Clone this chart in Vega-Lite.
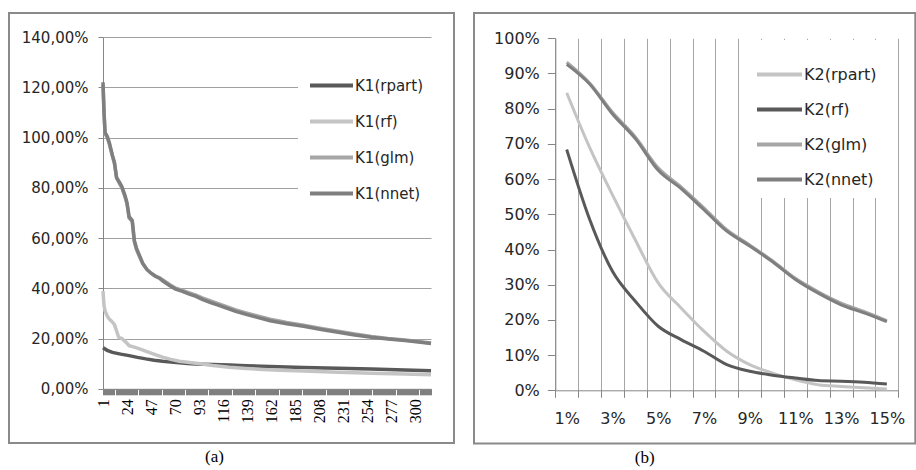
{
  "$schema": "https://vega.github.io/schema/vega-lite/v6.json",
  "background": "white",
  "padding": {"left": 8, "top": 12, "right": 0, "bottom": 0},
  "spacing": 18,
  "resolve": {"scale": {"x": "independent", "y": "independent", "color": "independent"}, "axis": {"x": "independent", "y": "independent"}, "legend": {"color": "independent"}},
  "config": {
    "view": {"stroke": "#8a8a8a", "strokeWidth": 2},
    "axis": {"labelFont": "DejaVu Sans", "labelColor": "#262626", "domainColor": "#868686", "tickColor": "#868686", "domainWidth": 1, "title": null},
    "legend": {"labelFont": "DejaVu Sans", "labelColor": "#262626"}
  },
  "datasets": {
    "a": [
      {"s": "K1(rpart)", "idx": 1, "v": 16.3}, {"s": "K1(rpart)", "idx": 5, "v": 15.3}, {"s": "K1(rpart)", "idx": 10, "v": 14.5}, {"s": "K1(rpart)", "idx": 18, "v": 13.8}, {"s": "K1(rpart)", "idx": 26, "v": 13.2}, {"s": "K1(rpart)", "idx": 34, "v": 12.5}, {"s": "K1(rpart)", "idx": 42, "v": 11.9}, {"s": "K1(rpart)", "idx": 50, "v": 11.4}, {"s": "K1(rpart)", "idx": 58, "v": 11.0}, {"s": "K1(rpart)", "idx": 66, "v": 10.7}, {"s": "K1(rpart)", "idx": 74, "v": 10.4}, {"s": "K1(rpart)", "idx": 82, "v": 10.1}, {"s": "K1(rpart)", "idx": 90, "v": 9.9}, {"s": "K1(rpart)", "idx": 106, "v": 9.7}, {"s": "K1(rpart)", "idx": 122, "v": 9.5}, {"s": "K1(rpart)", "idx": 138, "v": 9.2}, {"s": "K1(rpart)", "idx": 161, "v": 8.9}, {"s": "K1(rpart)", "idx": 193, "v": 8.5}, {"s": "K1(rpart)", "idx": 226, "v": 8.2}, {"s": "K1(rpart)", "idx": 258, "v": 7.9}, {"s": "K1(rpart)", "idx": 290, "v": 7.5}, {"s": "K1(rpart)", "idx": 315, "v": 7.2},
      {"s": "K1(rf)", "idx": 1, "v": 38.9}, {"s": "K1(rf)", "idx": 2, "v": 33}, {"s": "K1(rf)", "idx": 3, "v": 31}, {"s": "K1(rf)", "idx": 5, "v": 29}, {"s": "K1(rf)", "idx": 7, "v": 27.7}, {"s": "K1(rf)", "idx": 9, "v": 27}, {"s": "K1(rf)", "idx": 12, "v": 25.5}, {"s": "K1(rf)", "idx": 14, "v": 23}, {"s": "K1(rf)", "idx": 16, "v": 20.5}, {"s": "K1(rf)", "idx": 19, "v": 20}, {"s": "K1(rf)", "idx": 23, "v": 18.5}, {"s": "K1(rf)", "idx": 26, "v": 17.2}, {"s": "K1(rf)", "idx": 31, "v": 16.6}, {"s": "K1(rf)", "idx": 36, "v": 15.9}, {"s": "K1(rf)", "idx": 45, "v": 14.5}, {"s": "K1(rf)", "idx": 51, "v": 13.6}, {"s": "K1(rf)", "idx": 58, "v": 12.6}, {"s": "K1(rf)", "idx": 66, "v": 11.7}, {"s": "K1(rf)", "idx": 74, "v": 11.0}, {"s": "K1(rf)", "idx": 82, "v": 10.6}, {"s": "K1(rf)", "idx": 90, "v": 10.2}, {"s": "K1(rf)", "idx": 98, "v": 9.8}, {"s": "K1(rf)", "idx": 106, "v": 9.3}, {"s": "K1(rf)", "idx": 122, "v": 8.6}, {"s": "K1(rf)", "idx": 138, "v": 8.1}, {"s": "K1(rf)", "idx": 154, "v": 7.7}, {"s": "K1(rf)", "idx": 170, "v": 7.4}, {"s": "K1(rf)", "idx": 193, "v": 7.1}, {"s": "K1(rf)", "idx": 226, "v": 6.6}, {"s": "K1(rf)", "idx": 258, "v": 6.2}, {"s": "K1(rf)", "idx": 290, "v": 5.9}, {"s": "K1(rf)", "idx": 315, "v": 5.6},
      {"s": "K1(glm)", "idx": 1, "v": 121}, {"s": "K1(glm)", "idx": 2, "v": 109}, {"s": "K1(glm)", "idx": 3, "v": 101.5}, {"s": "K1(glm)", "idx": 5, "v": 100}, {"s": "K1(glm)", "idx": 7, "v": 97.5}, {"s": "K1(glm)", "idx": 10, "v": 92.5}, {"s": "K1(glm)", "idx": 12, "v": 89.5}, {"s": "K1(glm)", "idx": 14, "v": 84}, {"s": "K1(glm)", "idx": 17, "v": 81.5}, {"s": "K1(glm)", "idx": 19, "v": 80}, {"s": "K1(glm)", "idx": 22, "v": 76.5}, {"s": "K1(glm)", "idx": 24, "v": 73.5}, {"s": "K1(glm)", "idx": 26, "v": 68}, {"s": "K1(glm)", "idx": 29, "v": 66.5}, {"s": "K1(glm)", "idx": 31, "v": 58.5}, {"s": "K1(glm)", "idx": 33, "v": 55.5}, {"s": "K1(glm)", "idx": 36, "v": 52.5}, {"s": "K1(glm)", "idx": 39, "v": 49.8}, {"s": "K1(glm)", "idx": 43, "v": 47.5}, {"s": "K1(glm)", "idx": 47, "v": 46}, {"s": "K1(glm)", "idx": 51, "v": 45}, {"s": "K1(glm)", "idx": 55, "v": 44.2}, {"s": "K1(glm)", "idx": 58, "v": 43.4}, {"s": "K1(glm)", "idx": 65, "v": 41.4}, {"s": "K1(glm)", "idx": 70, "v": 40.2}, {"s": "K1(glm)", "idx": 77, "v": 39.2}, {"s": "K1(glm)", "idx": 83, "v": 38.3}, {"s": "K1(glm)", "idx": 90, "v": 37.3}, {"s": "K1(glm)", "idx": 96, "v": 36.2}, {"s": "K1(glm)", "idx": 104, "v": 35}, {"s": "K1(glm)", "idx": 112, "v": 33.8}, {"s": "K1(glm)", "idx": 120, "v": 32.6}, {"s": "K1(glm)", "idx": 128, "v": 31.4}, {"s": "K1(glm)", "idx": 138, "v": 30.2}, {"s": "K1(glm)", "idx": 147, "v": 29.2}, {"s": "K1(glm)", "idx": 161, "v": 27.7}, {"s": "K1(glm)", "idx": 177, "v": 26.4}, {"s": "K1(glm)", "idx": 193, "v": 25.3}, {"s": "K1(glm)", "idx": 210, "v": 24}, {"s": "K1(glm)", "idx": 226, "v": 22.9}, {"s": "K1(glm)", "idx": 242, "v": 21.8}, {"s": "K1(glm)", "idx": 258, "v": 20.8}, {"s": "K1(glm)", "idx": 274, "v": 20}, {"s": "K1(glm)", "idx": 290, "v": 19.4}, {"s": "K1(glm)", "idx": 303, "v": 18.8}, {"s": "K1(glm)", "idx": 315, "v": 18.2},
      {"s": "K1(nnet)", "idx": 1, "v": 122}, {"s": "K1(nnet)", "idx": 2, "v": 110}, {"s": "K1(nnet)", "idx": 3, "v": 102}, {"s": "K1(nnet)", "idx": 5, "v": 100.5}, {"s": "K1(nnet)", "idx": 7, "v": 98}, {"s": "K1(nnet)", "idx": 10, "v": 93}, {"s": "K1(nnet)", "idx": 12, "v": 90}, {"s": "K1(nnet)", "idx": 14, "v": 84}, {"s": "K1(nnet)", "idx": 17, "v": 82}, {"s": "K1(nnet)", "idx": 19, "v": 80.5}, {"s": "K1(nnet)", "idx": 22, "v": 77}, {"s": "K1(nnet)", "idx": 24, "v": 74}, {"s": "K1(nnet)", "idx": 26, "v": 68.5}, {"s": "K1(nnet)", "idx": 29, "v": 67}, {"s": "K1(nnet)", "idx": 31, "v": 59}, {"s": "K1(nnet)", "idx": 33, "v": 56}, {"s": "K1(nnet)", "idx": 36, "v": 53}, {"s": "K1(nnet)", "idx": 39, "v": 50}, {"s": "K1(nnet)", "idx": 43, "v": 47.5}, {"s": "K1(nnet)", "idx": 47, "v": 46}, {"s": "K1(nnet)", "idx": 51, "v": 44.8}, {"s": "K1(nnet)", "idx": 55, "v": 44}, {"s": "K1(nnet)", "idx": 58, "v": 43}, {"s": "K1(nnet)", "idx": 65, "v": 41}, {"s": "K1(nnet)", "idx": 70, "v": 39.8}, {"s": "K1(nnet)", "idx": 77, "v": 38.8}, {"s": "K1(nnet)", "idx": 83, "v": 37.8}, {"s": "K1(nnet)", "idx": 90, "v": 36.8}, {"s": "K1(nnet)", "idx": 96, "v": 35.6}, {"s": "K1(nnet)", "idx": 104, "v": 34.3}, {"s": "K1(nnet)", "idx": 112, "v": 33.2}, {"s": "K1(nnet)", "idx": 120, "v": 32}, {"s": "K1(nnet)", "idx": 128, "v": 30.8}, {"s": "K1(nnet)", "idx": 138, "v": 29.6}, {"s": "K1(nnet)", "idx": 147, "v": 28.6}, {"s": "K1(nnet)", "idx": 161, "v": 27.1}, {"s": "K1(nnet)", "idx": 177, "v": 25.9}, {"s": "K1(nnet)", "idx": 193, "v": 24.9}, {"s": "K1(nnet)", "idx": 210, "v": 23.6}, {"s": "K1(nnet)", "idx": 226, "v": 22.5}, {"s": "K1(nnet)", "idx": 242, "v": 21.4}, {"s": "K1(nnet)", "idx": 258, "v": 20.5}, {"s": "K1(nnet)", "idx": 274, "v": 19.8}, {"s": "K1(nnet)", "idx": 290, "v": 19.2}, {"s": "K1(nnet)", "idx": 303, "v": 18.6}, {"s": "K1(nnet)", "idx": 315, "v": 18.0}
    ],
    "b": [
      {"s": "K2(rpart)", "c": 1, "v": 84.5}, {"s": "K2(rpart)", "c": 2, "v": 69}, {"s": "K2(rpart)", "c": 3, "v": 55.5}, {"s": "K2(rpart)", "c": 4, "v": 42.7}, {"s": "K2(rpart)", "c": 5, "v": 30.5}, {"s": "K2(rpart)", "c": 6, "v": 23.4}, {"s": "K2(rpart)", "c": 7, "v": 16.8}, {"s": "K2(rpart)", "c": 8, "v": 11.1}, {"s": "K2(rpart)", "c": 9, "v": 7.3}, {"s": "K2(rpart)", "c": 10, "v": 4.9}, {"s": "K2(rpart)", "c": 11, "v": 3.0}, {"s": "K2(rpart)", "c": 12, "v": 1.6}, {"s": "K2(rpart)", "c": 13, "v": 1.1}, {"s": "K2(rpart)", "c": 14, "v": 0.7}, {"s": "K2(rpart)", "c": 15, "v": 0.4},
      {"s": "K2(rf)", "c": 1, "v": 68.4}, {"s": "K2(rf)", "c": 2, "v": 48.6}, {"s": "K2(rf)", "c": 3, "v": 33.8}, {"s": "K2(rf)", "c": 4, "v": 25.3}, {"s": "K2(rf)", "c": 5, "v": 18.2}, {"s": "K2(rf)", "c": 6, "v": 14.4}, {"s": "K2(rf)", "c": 7, "v": 11.1}, {"s": "K2(rf)", "c": 8, "v": 7.3}, {"s": "K2(rf)", "c": 9, "v": 5.4}, {"s": "K2(rf)", "c": 10, "v": 4.3}, {"s": "K2(rf)", "c": 11, "v": 3.5}, {"s": "K2(rf)", "c": 12, "v": 2.8}, {"s": "K2(rf)", "c": 13, "v": 2.6}, {"s": "K2(rf)", "c": 14, "v": 2.3}, {"s": "K2(rf)", "c": 15, "v": 1.8},
      {"s": "K2(glm)", "c": 1, "v": 93.2}, {"s": "K2(glm)", "c": 2, "v": 87.3}, {"s": "K2(glm)", "c": 3, "v": 79}, {"s": "K2(glm)", "c": 4, "v": 72}, {"s": "K2(glm)", "c": 5, "v": 63.2}, {"s": "K2(glm)", "c": 6, "v": 57.8}, {"s": "K2(glm)", "c": 7, "v": 51.8}, {"s": "K2(glm)", "c": 8, "v": 45.6}, {"s": "K2(glm)", "c": 9, "v": 41.3}, {"s": "K2(glm)", "c": 10, "v": 36.8}, {"s": "K2(glm)", "c": 11, "v": 31.8}, {"s": "K2(glm)", "c": 12, "v": 28}, {"s": "K2(glm)", "c": 13, "v": 24.8}, {"s": "K2(glm)", "c": 14, "v": 22.4}, {"s": "K2(glm)", "c": 15, "v": 19.8},
      {"s": "K2(nnet)", "c": 1, "v": 92.6}, {"s": "K2(nnet)", "c": 2, "v": 87}, {"s": "K2(nnet)", "c": 3, "v": 78.5}, {"s": "K2(nnet)", "c": 4, "v": 71.5}, {"s": "K2(nnet)", "c": 5, "v": 62.5}, {"s": "K2(nnet)", "c": 6, "v": 57.3}, {"s": "K2(nnet)", "c": 7, "v": 51.3}, {"s": "K2(nnet)", "c": 8, "v": 45.2}, {"s": "K2(nnet)", "c": 9, "v": 41}, {"s": "K2(nnet)", "c": 10, "v": 36.5}, {"s": "K2(nnet)", "c": 11, "v": 31.5}, {"s": "K2(nnet)", "c": 12, "v": 27.6}, {"s": "K2(nnet)", "c": 13, "v": 24.3}, {"s": "K2(nnet)", "c": 14, "v": 22}, {"s": "K2(nnet)", "c": 15, "v": 19.5}
    ]
  },
  "hconcat": [
    {
      "width": 445,
      "height": 430,
      "data": {"name": "a"},
      "title": {"text": "(a)", "orient": "bottom", "font": "Liberation Serif", "fontSize": 17, "fontWeight": "normal", "color": "#000000", "dx": -17, "offset": 6},
      "mark": {"type": "line", "strokeWidth": 3.5},
      "encoding": {
        "x": {
          "field": "idx", "type": "quantitative",
          "scale": {"domain": [1, 315], "range": [94, 422], "nice": false, "zero": false},
          "axis": {"offset": -54.2, "grid": false, "tickCount": 315, "tickSize": 6, "tickColor": "#7f7f7f", "labelExpr": "(datum.value - 1) % 23 == 0 ? '' + datum.value : ''", "labelAngle": -90, "labelFont": "Liberation Serif", "labelFontSize": 16, "labelColor": "#000000", "labelPadding": 4, "labelOverlap": false, "labelFlush": false}
        },
        "y": {
          "field": "v", "type": "quantitative",
          "scale": {"domain": [0, 140], "range": [375.8, 24], "nice": false},
          "axis": {"offset": -94, "values": [0, 20, 40, 60, 80, 100, 120, 140], "grid": true, "gridColor": "#a0a0a0", "tickSize": 5, "labelExpr": "replace(format(datum.value, '.2f'), '.', ',') + '%'", "labelFontSize": 15, "labelPadding": 10}
        },
        "color": {
          "field": "s", "type": "nominal",
          "scale": {"domain": ["K1(rpart)", "K1(rf)", "K1(glm)", "K1(nnet)"], "range": ["#595959", "#c4c4c4", "#a6a6a6", "#7f7f7f"]},
          "legend": {"orient": "none", "legendX": 289, "legendY": 39, "title": null, "fillColor": "white", "padding": 10, "symbolType": "stroke", "symbolSize": 1849, "symbolStrokeWidth": 4, "labelFontSize": 15, "rowPadding": 4, "labelOffset": 0}
        }
      }
    },
    {
      "width": 441.3,
      "height": 430.6,
      "data": {"name": "b"},
      "title": {"text": "(b)", "orient": "bottom", "font": "Liberation Serif", "fontSize": 17, "fontWeight": "normal", "color": "#000000", "dx": -50, "offset": 6},
      "resolve": {"axis": {"x": "independent"}},
      "layer": [
        {
          "mark": {"type": "line", "strokeOpacity": 0},
          "encoding": {
            "x": {
              "field": "c", "type": "ordinal",
              "scale": {"type": "band", "paddingInner": 0, "paddingOuter": 0, "range": [81.3, 424.3]},
              "axis": {"orient": "top", "grid": true, "gridColor": "#a6a6a6", "tickBand": "extent", "domain": false, "ticks": false, "labels": false}
            },
            "y": {"field": "v", "type": "quantitative"}
          }
        },
        {
          "mark": {"type": "line", "strokeWidth": 3, "interpolate": "monotone"},
          "encoding": {
            "x": {
              "field": "c", "type": "ordinal", "bandPosition": 0.5,
              "scale": {"type": "band", "paddingInner": 0, "paddingOuter": 0, "range": [81.3, 424.3]},
              "axis": {"orient": "bottom", "offset": -53.3, "grid": false, "tickBand": "extent", "tickSize": 7, "labelExpr": "datum.value % 2 == 1 ? datum.value + '%' : ''", "labelAngle": 0, "labelFontSize": 16, "labelPadding": 13}
            },
            "y": {
              "field": "v", "type": "quantitative",
              "scale": {"domain": [0, 100], "range": [377.3, 25.3], "nice": false},
              "axis": {"offset": -81.3, "values": [0, 10, 20, 30, 40, 50, 60, 70, 80, 90, 100], "grid": false, "tickSize": 8, "labelExpr": "datum.value + '%'", "labelFontSize": 16, "labelPadding": 8}
            },
            "color": {
              "field": "s", "type": "nominal",
              "scale": {"domain": ["K2(rpart)", "K2(rf)", "K2(glm)", "K2(nnet)"], "range": ["#c4c4c4", "#595959", "#a6a6a6", "#7f7f7f"]},
              "legend": {"orient": "none", "legendX": 271, "legendY": 27, "title": null, "fillColor": "white", "padding": 10, "symbolType": "stroke", "symbolSize": 2025, "symbolStrokeWidth": 4, "labelFontSize": 16, "rowPadding": 2, "labelOffset": 0}
            }
          }
        }
      ]
    }
  ]
}
